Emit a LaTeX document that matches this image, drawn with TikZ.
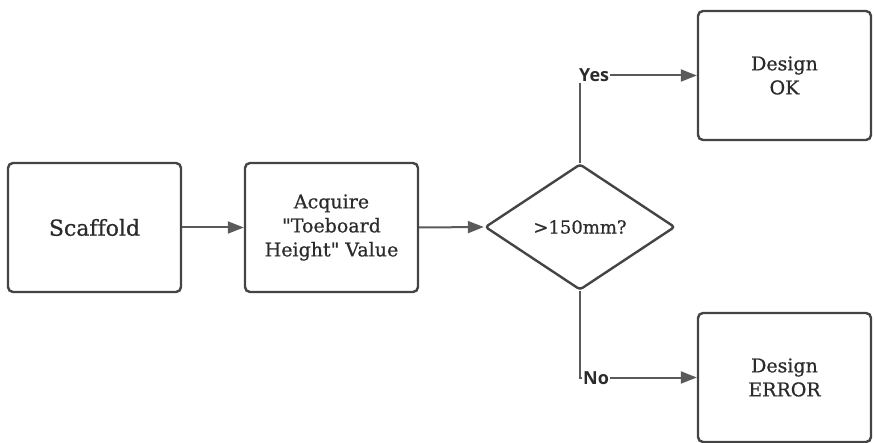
\documentclass[tikz,border=0pt]{standalone}
\usepackage{fontspec}
\setmainfont{DejaVu Serif}[Ligatures=NoCommon, FakeBold=0.7]
\newfontfamily\labelfont{Open Sans}
\usetikzlibrary{arrows.meta,shapes.geometric}
\definecolor{boxline}{HTML}{444444}
\definecolor{linkline}{HTML}{5A5A5A}
\definecolor{inktext}{HTML}{2B2B2B}
\tikzset{
  procbox/.style={draw=boxline, line width=2.4pt, rounded corners=5pt,
    minimum width=173pt, minimum height=129pt, align=center,
    text=inktext, font=\fontsize{19}{24}\selectfont, inner sep=0pt},
  decision/.style={draw=boxline, line width=2.4pt, diamond, aspect=1.48,
    rounded corners=3pt,
    minimum width=190pt, minimum height=126pt, inner sep=0pt,
    text=inktext, font=\fontsize{18}{22}\selectfont},
  link/.style={draw=linkline, line width=2pt,
    -{Triangle[length=16pt,width=12pt]}},
  branch/.style={fill=white, inner sep=1pt, text=inktext,
    font=\labelfont\fontsize{18}{20}\selectfont\bfseries}
}
\begin{document}
\begin{tikzpicture}[x=1pt,y=-1pt]
  \useasboundingbox (0,0) rectangle (874,443);
  % process boxes
  \node[procbox, font=\fontsize{22}{26}\selectfont] (scaf) at (94.5,227.5) {Scaffold};
  \node[procbox] (acq) at (331.5,227.5)
    {Acquire\\\textquotedbl Toeboard\\Height\textquotedbl\ Value};
  \node[decision] (dec) at (580,227) {>150mm?};
  \node[procbox] (ok) at (784.5,75.5) {Design\\OK};
  \node[procbox] (err) at (784.5,377.5) {Design\\ERROR};
  % flow from left to right
  \draw[link] (scaf.east) -- (acq.west);
  \draw[link] (acq.east) -- (dec.west);
  % branch corners
  \coordinate (ycorner) at (580,75.5);
  \coordinate (ncorner) at (580,377.5);
  \draw[link] (dec.north) -- (ycorner) -- (ok.west);
  \draw[link] (dec.south) -- (ncorner) -- (err.west);
  % branch labels sit over the corners
  \node[branch, anchor=west] (yes) at (578,75.5) {Yes};
  \node[branch, anchor=west] (no) at (582,378.5) {No};
\end{tikzpicture}
\end{document}
